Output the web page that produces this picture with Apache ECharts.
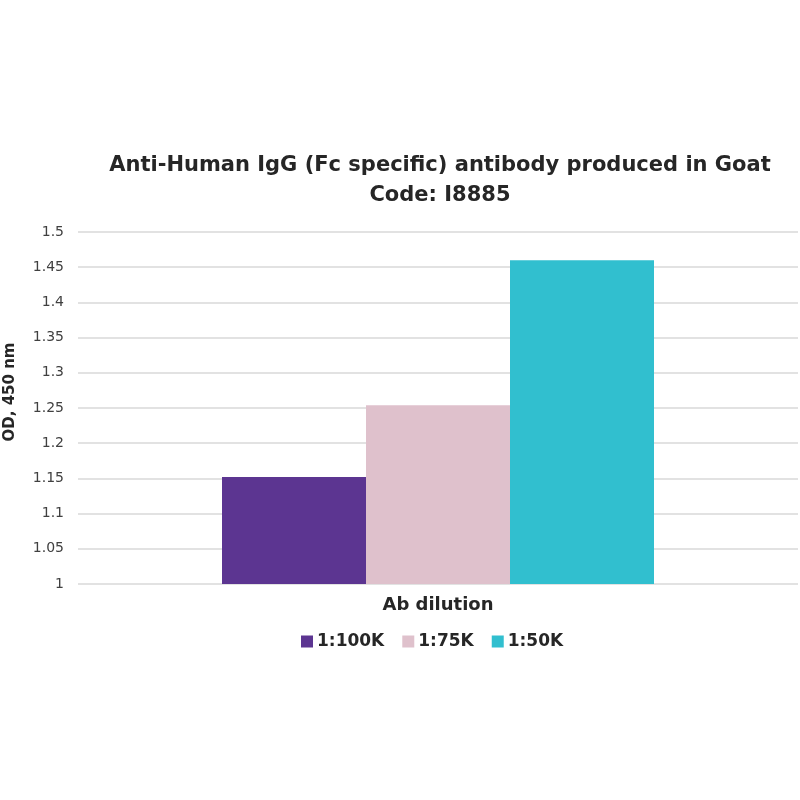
<!DOCTYPE html>
<html>
<head>
<meta charset="utf-8">
<script src="https://cdn.jsdelivr.net/npm/echarts@6/dist/echarts.min.js"></script>
<style>html,body{margin:0;padding:0;background:#fff}#c{width:800px;height:800px}</style>
</head>
<body>
<div id="c"></div>
<script>
const categories = ['Ab dilution'];
const seriesNames = ['1:100K', '1:75K', '1:50K'];
const seriesValues = [[1.152], [1.254], [1.460]];
const colors = ['#5c3591', '#dfc1cc', '#31bfcf'];
const yMin = 1, yMax = 1.5, yStep = 0.05;

const chart = echarts.init(document.getElementById('c'));
chart.setOption({
  animation: false,
  textStyle: { fontFamily: 'DejaVu Sans' },
  title: {
    text: 'Anti-Human IgG (Fc specific) antibody produced in Goat\nCode: I8885',
    left: 435, top: 146, textAlign: 'center',
    textStyle: { fontSize: 21, fontWeight: 'bold', color: '#262626', lineHeight: 30, fontFamily: 'DejaVu Sans' }
  },
  legend: {
    data: seriesNames, top: 628, left: 296,
    itemWidth: 12, itemHeight: 12, itemGap: 18,
    icon: 'rect',
    textStyle: { fontSize: 17, fontWeight: 'bold', color: '#262626', fontFamily: 'DejaVu Sans', padding: [0, 0, 0, -1] }
  },
  grid: { left: 78, right: 2, top: 232, bottom: 216, outerBoundsMode: 'none' },
  xAxis: {
    type: 'category', data: categories,
    axisLine: { show: false }, axisTick: { show: false },
    axisLabel: { margin: 12, fontSize: 18, fontWeight: 'bold', color: '#262626', fontFamily: 'DejaVu Sans' }
  },
  yAxis: {
    type: 'value', min: yMin, max: yMax, interval: yStep,
    name: 'OD, 450 nm', nameLocation: 'middle', nameGap: 60, nameRotate: 90,
    nameTextStyle: { fontSize: 15, fontWeight: 'bold', color: '#262626', fontFamily: 'DejaVu Sans', padding: [0, 0, 0, 32] },
    axisLine: { show: false }, axisTick: { show: false },
    axisLabel: { margin: 14, fontSize: 14, color: '#404040', fontFamily: 'DejaVu Sans',
      formatter: v => String(parseFloat(v.toFixed(2))) },
    splitLine: { lineStyle: { color: '#d9d9d9', width: 1.5 } }
  },
  series: seriesNames.map((n, i) => ({
    name: n, type: 'bar', data: seriesValues[i],
    barGap: '0%', barCategoryGap: '40%',
    itemStyle: { color: colors[i] }
  }))
});
</script>
</body>
</html>
